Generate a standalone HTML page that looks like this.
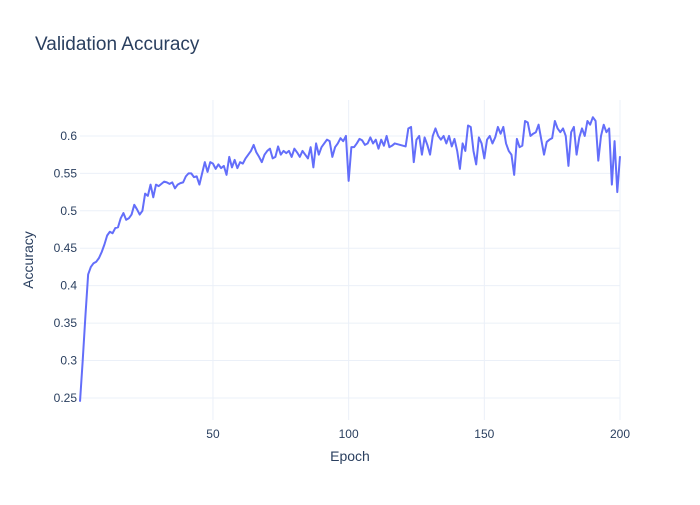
<!DOCTYPE html>
<html><head><meta charset="utf-8"><style>
body{margin:0;background:#fff}
svg text{font-family:"Liberation Sans",sans-serif}
</style></head><body>
<svg id="chart" width="700" height="500">
<rect width="700" height="500" fill="#fff"/>
<text x="35" y="50" font-size="19" fill="#2a3f5f">Validation Accuracy</text>
<g id="grid"></g>
<g id="ticks"></g>
<path id="line" fill="none" stroke="#636efa" stroke-width="2" stroke-linejoin="round"/>
<text x="350" y="461" font-size="14" fill="#2a3f5f" text-anchor="middle">Epoch</text>
<text x="0" y="0" font-size="14" fill="#2a3f5f" text-anchor="middle" transform="translate(33,260) rotate(-90)">Accuracy</text>
</svg>
<script>
const accuracy=[0.245,0.30,0.36,0.415,0.425,0.43,0.432,0.437,0.445,0.455,0.467,0.472,0.47,0.477,0.478,0.49,0.497,0.488,0.49,0.495,
0.508,0.502,0.495,0.5,0.523,0.52,0.535,0.518,0.535,0.533,0.536,0.539,0.538,0.536,0.538,0.53,0.535,0.537,0.538,0.546,
0.55,0.55,0.545,0.546,0.535,0.55,0.565,0.552,0.565,0.563,0.556,0.562,0.557,0.56,0.548,0.572,0.558,0.568,0.557,0.565,
0.563,0.57,0.575,0.58,0.588,0.578,0.572,0.565,0.575,0.58,0.583,0.57,0.572,0.586,0.575,0.58,0.577,0.58,0.572,0.583,
0.578,0.572,0.58,0.575,0.57,0.585,0.558,0.59,0.575,0.585,0.59,0.595,0.593,0.572,0.585,0.59,0.597,0.593,0.6,0.54,
0.585,0.585,0.59,0.596,0.594,0.588,0.59,0.598,0.59,0.595,0.583,0.595,0.587,0.6,0.585,0.587,0.59,0.589,0.588,0.587,
0.586,0.61,0.612,0.565,0.595,0.6,0.575,0.598,0.588,0.575,0.6,0.61,0.6,0.595,0.6,0.59,0.6,0.586,0.596,0.58,
0.556,0.59,0.58,0.614,0.612,0.58,0.562,0.598,0.59,0.57,0.595,0.6,0.59,0.598,0.612,0.603,0.612,0.59,0.58,0.575,
0.548,0.596,0.585,0.587,0.62,0.618,0.6,0.603,0.605,0.615,0.595,0.575,0.592,0.595,0.597,0.62,0.61,0.605,0.61,0.6,
0.56,0.605,0.612,0.575,0.598,0.61,0.6,0.62,0.615,0.625,0.62,0.567,0.6,0.615,0.605,0.61,0.535,0.593,0.525,0.573];
const xTicks=[50,100,150,200];
const yTicks=[0.25,0.3,0.35,0.4,0.45,0.5,0.55,0.6];
const L=80,R=620,T=100,B=420,x0=1,x1=200,y0=0.2206,y1=0.648;
const sx=v=>L+(v-x0)/(x1-x0)*(R-L);
const sy=v=>B-(v-y0)/(y1-y0)*(B-T);
const NS="http://www.w3.org/2000/svg";
const grid=document.getElementById('grid'),ticks=document.getElementById('ticks');
function mk(tag,attrs,parent){const e=document.createElementNS(NS,tag);for(const k in attrs)e.setAttribute(k,attrs[k]);parent.appendChild(e);return e;}
xTicks.forEach(t=>{
 const l=mk('line',{x1:sx(t),x2:sx(t),y1:T,y2:B,stroke:'#ebf0f8','stroke-width':1},grid);
 
 
 const tx=mk('text',{x:sx(t),y:438,'font-size':12,fill:'#2a3f5f','text-anchor':'middle'},ticks);
 tx.textContent=t;
 
 
});
yTicks.forEach(t=>{
 const l=mk('line',{x1:L,x2:R,y1:sy(t),y2:sy(t),stroke:'#ebf0f8','stroke-width':1},grid);
 
 
 const tx=mk('text',{x:77,y:sy(t)+4,'font-size':12,fill:'#2a3f5f','text-anchor':'end'},ticks);
 tx.textContent=String(t);
 
 
});
document.getElementById('line').setAttribute('d',accuracy.map((v,i)=>(i?'L':'M')+sx(i+1).toFixed(2)+','+sy(v).toFixed(2)).join(''));
</script>
</body></html>
